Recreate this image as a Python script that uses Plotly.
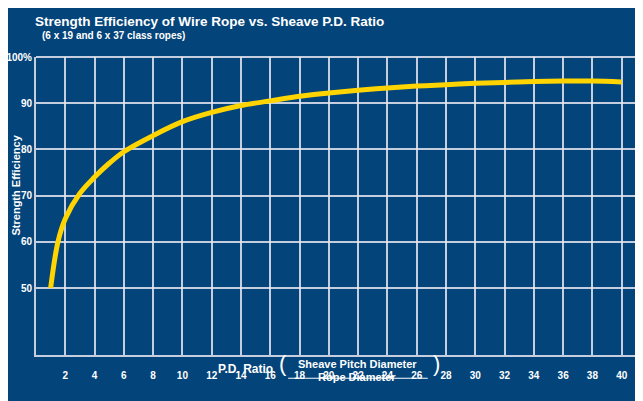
import plotly.graph_objects as go

pd_ratio = [1, 1.5, 2, 3, 4, 5, 6, 8, 10, 12, 14, 16, 18, 20, 22, 24, 26, 28, 30, 32, 34, 36, 38, 40]
efficiency = [50, 60, 65, 70.5, 74, 77, 79.5, 83, 86, 88, 89.5, 90.5, 91.5, 92.2, 92.8, 93.3, 93.7, 94, 94.3, 94.5, 94.7, 94.8, 94.8, 94.6]
x_ticks = list(range(2, 41, 2))
y_ticks = [50, 60, 70, 80, 90, 100]
y_labels = ["50", "60", "70", "80", "90", "100%"]

bg = "#03447a"
grid = "rgba(230,230,240,0.85)"
font = "Liberation Sans, Arial, sans-serif"

fig = go.Figure()
fig.add_trace(go.Scatter(x=pd_ratio, y=efficiency, mode="lines",
                         line=dict(color="#ffd400", width=5, shape="spline"),
                         hoverinfo="skip"))

fig.update_layout(
    width=643, height=401,
    paper_bgcolor=bg, plot_bgcolor=bg,
    margin=dict(l=28, r=0, t=49, b=54, autoexpand=False),
    showlegend=False,
    font=dict(family=font, color="white", size=11),
    xaxis=dict(range=[0, 42], tickvals=x_ticks, ticktext=[f"<b>{t}</b>" for t in x_ticks],
               showgrid=True, gridcolor=grid, gridwidth=1.5,
               zeroline=False, showline=True, linecolor=grid, linewidth=2,
               ticks="outside", ticklen=10, tickcolor="rgba(0,0,0,0)",
               tickfont=dict(size=10, family=font)),
    yaxis=dict(range=[35.5, 100], tickvals=y_ticks, ticktext=[f"<b>{t}</b>" for t in y_labels],
               showgrid=True, gridcolor=grid, gridwidth=1.5, zeroline=False, showline=True,
               linecolor=grid, linewidth=2, ticks="", tickfont=dict(size=10, family=font)),
)
fig.add_shape(type="line", xref="paper", yref="paper", x0=0, x1=1, y0=1, y1=1,
              line=dict(color=grid, width=2))
fig.add_shape(type="line", xref="paper", yref="paper", x0=1, x1=1, y0=0, y1=1,
              line=dict(color=grid, width=2))

fig.add_annotation(text="<b>Strength Efficiency</b>", textangle=-90, xref="paper", yref="paper",
                   x=-0.045, y=0.57, xanchor="left", showarrow=False,
                   font=dict(size=11, color="white"))
fig.add_annotation(text="<b>Strength Efficiency of Wire Rope vs. Sheave P.D. Ratio</b>",
                   xref="paper", yref="paper", x=-0.005, y=1.151, xanchor="left",
                   showarrow=False, font=dict(size=13.5, color="white"))
fig.add_annotation(text="<b>(6 x 19 and 6 x 37 class ropes)</b>",
                   xref="paper", yref="paper", x=0.0065, y=1.097, xanchor="left",
                   showarrow=False, font=dict(size=10, color="white"))
fig.add_annotation(text="<b>P.D. Ratio</b>", xref="paper", yref="paper", x=0.389, y=-0.077,
                   xanchor="right", showarrow=False, font=dict(size=12, color="white"))
fig.add_annotation(text="(", xref="paper", yref="paper", x=0.392, y=-0.077, xanchor="left",
                   showarrow=False, font=dict(size=22, color="white"))
fig.add_annotation(text=")", xref="paper", yref="paper", x=0.643, y=-0.077, xanchor="left",
                   showarrow=False, font=dict(size=22, color="white"))
fig.add_annotation(text="<b>Sheave Pitch Diameter</b>", xref="paper", yref="paper", x=0.522,
                   y=-0.057, showarrow=False, font=dict(size=11, color="white"))
fig.add_annotation(text="<b>Rope Diameter</b>", xref="paper", yref="paper", x=0.522,
                   y=-0.10, showarrow=False, font=dict(size=11, color="white"))
fig.add_shape(type="line", xref="paper", yref="paper", x0=0.41, x1=0.637, y0=-0.078, y1=-0.078,
              line=dict(color="white", width=1))

fig.write_html("out.html")
